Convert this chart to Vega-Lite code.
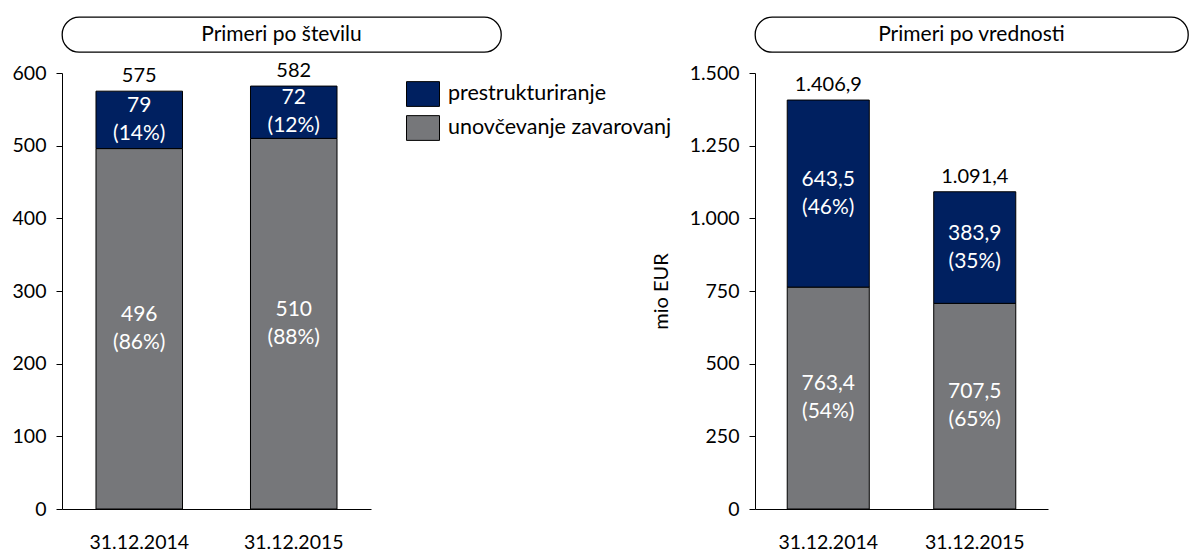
{
  "$schema": "https://vega.github.io/schema/vega-lite/v6.json",
  "padding": {"left": 12, "top": 16, "right": 1, "bottom": 2},
  "bounds": "flush",
  "columns": 2,
  "spacing": {"row": 21, "column": 254},
  "config": {
    "font": "Lato",
    "locale": {"number": {"decimal": ",", "thousands": ".", "grouping": [3], "currency": ["", " €"]}},
    "view": {"stroke": null},
    "axis": {"labelFont": "Lato", "labelFontSize": 19.5, "labelColor": "black", "domainColor": "black", "tickColor": "black", "grid": false, "titleFont": "Lato", "titleFontSize": 20, "titleFontWeight": "normal", "titleColor": "black", "domainWidth": 1, "tickWidth": 1},
    "axisY": {"tickSize": 6, "labelPadding": 10},
    "axisX": {"ticks": false, "labelPadding": 24, "labelAngle": 0, "labelFontSize": 19.5},
    "text": {"font": "Lato", "fontSize": 20}
  },
  "resolve": {"scale": {"color": "independent", "x": "independent", "y": "independent"}, "legend": {"color": "independent"}},
  "concat": [
    {
      "width": 439,
      "height": 35,
      "view": {"stroke": "black", "strokeWidth": 1.3, "cornerRadius": 17, "fill": "white"},
      "data": {"values": [{"t": "Primeri po številu"}]},
      "mark": {"type": "text", "fontSize": 21, "color": "black"},
      "encoding": {"text": {"field": "t"}}
    },
    {
      "width": 433,
      "height": 35,
      "view": {"stroke": "black", "strokeWidth": 1.3, "cornerRadius": 17, "fill": "white"},
      "data": {"values": [{"t": "Primeri po vrednosti"}]},
      "mark": {"type": "text", "fontSize": 21, "color": "black"},
      "encoding": {"text": {"field": "t"}}
    },
    {
      "width": 309,
      "height": 436,
      "data": {"values": [
        {"datum": "31.12.2014", "kat": "unovčevanje zavarovanj", "v": 496, "lbl": "496\n(86%)"},
        {"datum": "31.12.2014", "kat": "prestrukturiranje", "v": 79, "lbl": "79\n(14%)"},
        {"datum": "31.12.2015", "kat": "unovčevanje zavarovanj", "v": 510, "lbl": "510\n(88%)"},
        {"datum": "31.12.2015", "kat": "prestrukturiranje", "v": 72, "lbl": "72\n(12%)"}
      ]},
      "encoding": {
        "x": {"field": "datum", "type": "nominal", "title": null, "scale": {"paddingInner": 0.44, "paddingOuter": 0.22}}
      },
      "layer": [
        {
          "mark": {"type": "bar", "stroke": "black", "strokeWidth": 1},
          "encoding": {
            "y": {"field": "v", "type": "quantitative", "stack": "zero", "title": null, "scale": {"domain": [0, 600], "nice": false}, "axis": {"values": [0, 100, 200, 300, 400, 500, 600]}},
            "color": {"field": "kat", "type": "nominal",
              "scale": {"domain": ["prestrukturiranje", "unovčevanje zavarovanj"], "range": ["#002060", "#76777a"]},
              "legend": {"orient": "none", "legendX": 344, "legendY": 4, "title": null, "symbolType": "M-1,-0.75H1V0.75H-1Z", "symbolSize": 1089, "symbolStrokeColor": "black", "symbolStrokeWidth": 1, "symbolOpacity": 1, "labelFont": "Lato", "labelFontSize": 21.5, "labelColor": "black", "labelOffset": 8, "labelLimit": 400, "rowPadding": 2, "padding": 0}},
            "order": {"field": "kat", "sort": "descending"}
          }
        },
        {
          "mark": {"type": "text", "color": "white", "lineBreak": "\n", "lineHeight": 28, "fontSize": 21, "baseline": "middle", "dy": -14},
          "encoding": {
            "y": {"field": "v", "type": "quantitative", "stack": "zero", "bandPosition": 0.5, "title": null},
            "detail": {"field": "kat"},
            "order": {"field": "kat", "sort": "descending"},
            "text": {"field": "lbl"}
          }
        },
        {
          "transform": [{"aggregate": [{"op": "sum", "field": "v", "as": "total"}], "groupby": ["datum"]}],
          "mark": {"type": "text", "baseline": "alphabetic", "dy": -9, "fontSize": 20, "color": "black"},
          "encoding": {
            "y": {"field": "total", "type": "quantitative", "title": null},
            "text": {"field": "total", "type": "quantitative", "format": ",d"}
          }
        }
      ]
    },
    {
      "width": 293,
      "height": 436,
      "data": {"values": [
        {"datum": "31.12.2014", "kat": "unovčevanje zavarovanj", "v": 763.4, "lbl": "763,4\n(54%)"},
        {"datum": "31.12.2014", "kat": "prestrukturiranje", "v": 643.5, "lbl": "643,5\n(46%)"},
        {"datum": "31.12.2015", "kat": "unovčevanje zavarovanj", "v": 707.5, "lbl": "707,5\n(65%)"},
        {"datum": "31.12.2015", "kat": "prestrukturiranje", "v": 383.9, "lbl": "383,9\n(35%)"}
      ]},
      "encoding": {
        "x": {"field": "datum", "type": "nominal", "title": null, "scale": {"paddingInner": 0.44, "paddingOuter": 0.22}}
      },
      "layer": [
        {
          "mark": {"type": "bar", "stroke": "black", "strokeWidth": 1},
          "encoding": {
            "y": {"field": "v", "type": "quantitative", "stack": "zero", "title": "mio EUR", "scale": {"domain": [0, 1500], "nice": false}, "axis": {"values": [0, 250, 500, 750, 1000, 1250, 1500], "format": ",d", "titlePadding": 18}},
            "color": {"field": "kat", "type": "nominal",
              "scale": {"domain": ["prestrukturiranje", "unovčevanje zavarovanj"], "range": ["#002060", "#76777a"]},
              "legend": null},
            "order": {"field": "kat", "sort": "descending"}
          }
        },
        {
          "mark": {"type": "text", "color": "white", "lineBreak": "\n", "lineHeight": 28, "fontSize": 21, "baseline": "middle", "dy": -14},
          "encoding": {
            "y": {"field": "v", "type": "quantitative", "stack": "zero", "bandPosition": 0.5},
            "detail": {"field": "kat"},
            "order": {"field": "kat", "sort": "descending"},
            "text": {"field": "lbl"}
          }
        },
        {
          "transform": [{"aggregate": [{"op": "sum", "field": "v", "as": "total"}], "groupby": ["datum"]}],
          "mark": {"type": "text", "baseline": "alphabetic", "dy": -9, "fontSize": 20, "color": "black"},
          "encoding": {
            "y": {"field": "total", "type": "quantitative"},
            "text": {"field": "total", "type": "quantitative", "format": ",.1f"}
          }
        }
      ]
    }
  ]
}
